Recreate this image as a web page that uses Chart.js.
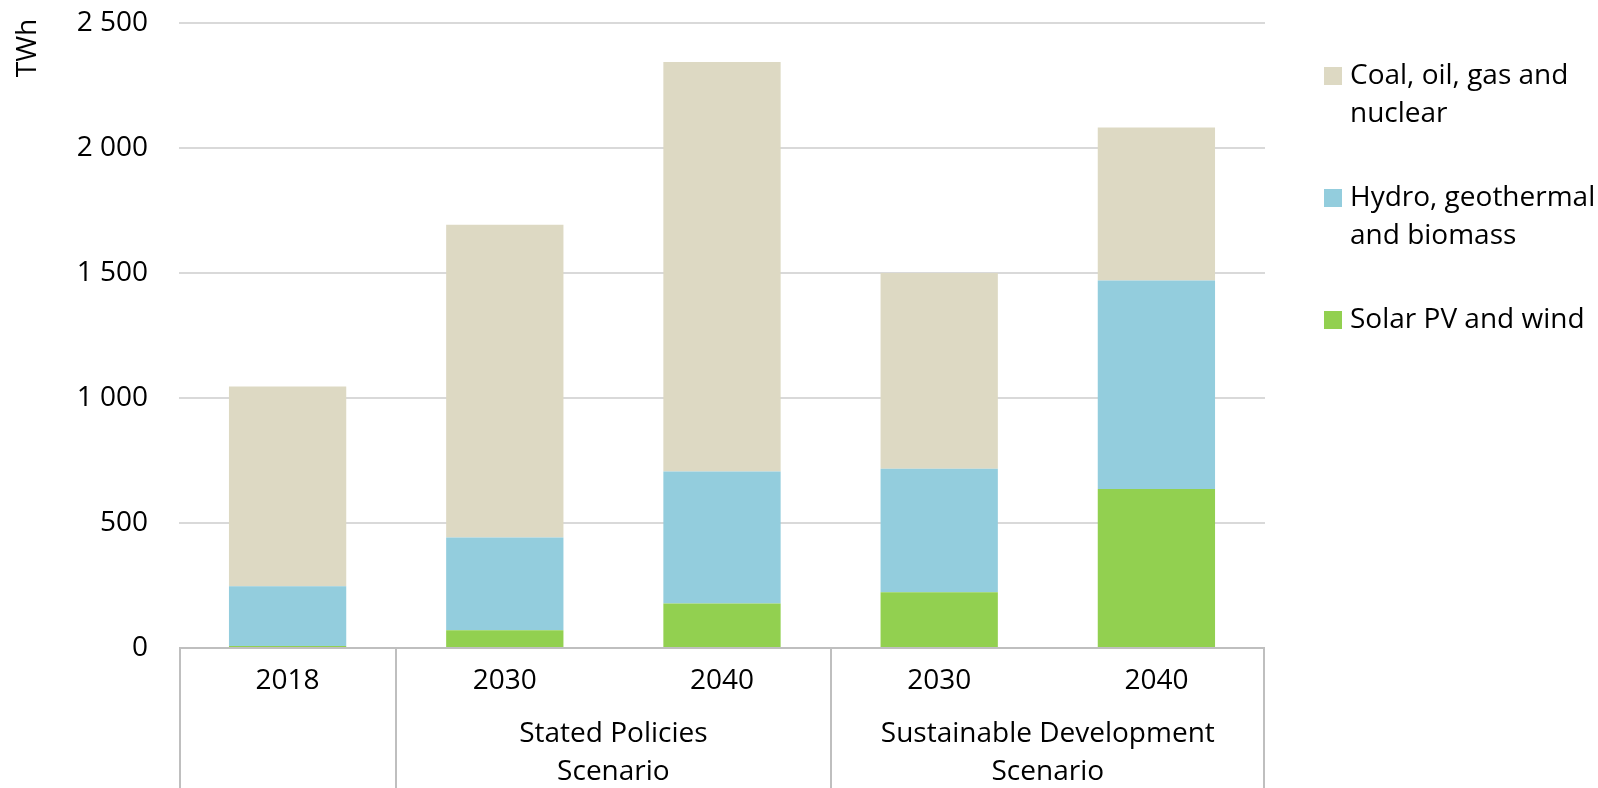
<!DOCTYPE html>
<html>
<head>
<meta charset="utf-8">
<script src="https://cdn.jsdelivr.net/npm/chart.js@4/dist/chart.umd.min.js"></script>
<style>
  html, body { margin: 0; padding: 0; background: #fff; }
  #wrap { width: 1598px; height: 788px; }
</style>
</head>
<body>
<div id="wrap"><canvas id="myChart" width="1598" height="788"></canvas></div>
<script>
// categories, two levels
const years = ['2018', '2030', '2040', '2030', '2040'];
const groupLabels = [[''], ['Stated Policies', 'Scenario'], ['Sustainable Development', 'Scenario']];
const groupSpans = [1, 2, 2];

// TWh
const solarWind = [8, 71, 178, 223, 636];
const hydroGeoBio = [239, 371, 528, 494, 834];
const fossilNuclear = [799, 1251, 1638, 783, 612];

const yTicks = [0, 500, 1000, 1500, 2000, 2500];

const FONT = '"Open Sans", "Noto Sans", sans-serif';
const FSIZE = 28;
const TEXT = '#000000';
const BOX = '#BFBFBF';

// legend drawn by hand so labels can wrap on two lines
const legendPlugin = {
    id: 'sideLegend',
    afterDraw(chart) {
        const ctx = chart.ctx;
        const order = [2, 1, 0];
        ctx.save();
        ctx.font = FSIZE + 'px ' + FONT;
        ctx.textBaseline = 'middle';
        order.forEach((di, k) => {
            const ds = chart.data.datasets[di];
            const y0 = 76 + k * 122;
            ctx.fillStyle = ds.backgroundColor;
            ctx.fillRect(1324, y0 - 9, 18, 18);
            ctx.fillStyle = TEXT;
            ds.legendLines.forEach((line, j) => {
                ctx.fillText(line, 1350, y0 + j * 38);
            });
        });
        ctx.restore();
    }
};

// category axis drawn as a box table with group row
const axisBoxPlugin = {
    id: 'axisBox',
    afterDraw(chart) {
        const ctx = chart.ctx;
        const area = chart.chartArea;
        const x = chart.scales.x;
        const step = (area.right - area.left) / years.length;
        const bottom = chart.height;
        ctx.save();
        ctx.strokeStyle = BOX;
        ctx.lineWidth = 2;
        ctx.beginPath();
        ctx.moveTo(area.left, area.bottom);
        ctx.lineTo(area.right, area.bottom);
        let idx = 0;
        const edges = [0];
        groupSpans.forEach(s => { idx += s; edges.push(idx); });
        edges.forEach(e => {
            const px = Math.round(area.left + e * step) + (e === 0 ? 1 : 0) - (e === years.length ? 1 : 0);
            ctx.moveTo(px, area.bottom);
            ctx.lineTo(px, bottom);
        });
        ctx.stroke();

        ctx.fillStyle = TEXT;
        ctx.font = FSIZE + 'px ' + FONT;
        ctx.textAlign = 'center';
        ctx.textBaseline = 'middle';
        years.forEach((yr, i) => {
            ctx.fillText(yr, x.getPixelForValue(i), area.bottom + 33);
        });
        let start = 0;
        groupSpans.forEach((s, g) => {
            const cx = area.left + (start + s / 2) * step;
            groupLabels[g].forEach((line, j) => {
                ctx.fillText(line, cx, area.bottom + 86 + j * 38);
            });
            start += s;
        });

        // y axis unit
        ctx.translate(28, 48);
        ctx.rotate(-Math.PI / 2);
        ctx.fillText('TWh', 0, 0);
        ctx.restore();
    }
};

const ctx = document.getElementById('myChart').getContext('2d');
const chart = new Chart(ctx, {
    type: 'bar',
    data: {
        labels: years,
        datasets: [{
            label: 'Solar PV and wind',
            legendLines: ['Solar PV and wind'],
            data: solarWind,
            backgroundColor: '#92D050'
        }, {
            label: 'Hydro, geothermal and biomass',
            legendLines: ['Hydro, geothermal', 'and biomass'],
            data: hydroGeoBio,
            backgroundColor: '#93CDDD'
        }, {
            label: 'Coal, oil, gas and nuclear',
            legendLines: ['Coal, oil, gas and', 'nuclear'],
            data: fossilNuclear,
            backgroundColor: '#DDD9C3'
        }]
    },
    options: {
        responsive: false,
        animation: false,
        devicePixelRatio: 1,
        layout: { padding: { left: 0, right: 333, top: 23, bottom: 140 } },
        datasets: { bar: { barPercentage: 0.54, categoryPercentage: 1, borderWidth: 0 } },
        plugins: { legend: { display: false }, tooltip: { enabled: false } },
        scales: {
            x: {
                display: false,
                stacked: true
            },
            y: {
                stacked: true,
                min: yTicks[0],
                max: yTicks[yTicks.length - 1],
                afterBuildTicks(scale) { scale.ticks = yTicks.map(v => ({ value: v })); },
                afterFit(scale) { scale.width = 179; },
                ticks: {
                    padding: 0,
                    color: TEXT,
                    font: { family: FONT, size: FSIZE },
                    callback: v => String(v).replace(/\B(?=(\d{3})+(?!\d))/g, ' ')
                },
                grid: { color: '#D9D9D9', lineWidth: 2, drawTicks: true, tickLength: 31, tickColor: 'rgba(0,0,0,0)' },
                border: { display: false }
            }
        }
    },
    plugins: [axisBoxPlugin, legendPlugin]
});
</script>
</body>
</html>
